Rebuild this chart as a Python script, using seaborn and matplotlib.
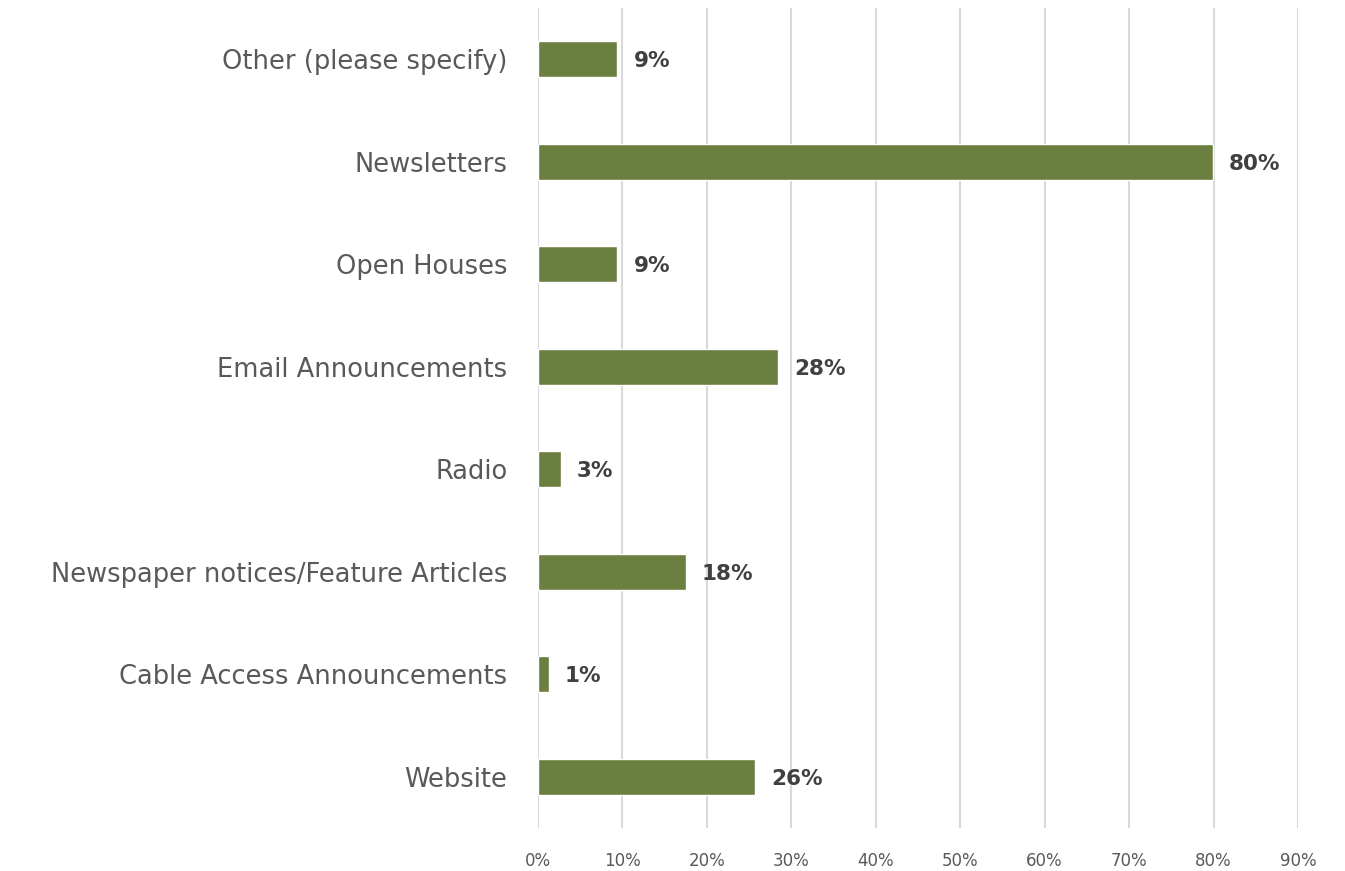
import pandas as pd
import matplotlib.pyplot as plt
import seaborn as sns
from matplotlib.ticker import PercentFormatter

# data (top to bottom)
categories = ["Other (please specify)", "Newsletters", "Open Houses", "Email Announcements",
              "Radio", "Newspaper notices/Feature Articles", "Cable Access Announcements", "Website"]
shares = [0.094, 0.799, 0.094, 0.284, 0.027, 0.175, 0.013, 0.257]
labels = ["9%", "80%", "9%", "28%", "3%", "18%", "1%", "26%"]

df = pd.DataFrame({"category": categories, "share": shares})

sns.set_style("white")
plt.rcParams['font.family'] = ['DejaVu Sans']

fig = plt.figure(figsize=(13.45, 8.71), dpi=100)
ax = fig.add_axes([538 / 1345, 1 - 828 / 871, (1298 - 538) / 1345, 820 / 871])

sns.barplot(data=df, x="share", y="category", orient="h", color="#6b7f40",
            width=0.35, saturation=1, ax=ax, zorder=3)

# value labels
for i, (v, lab) in enumerate(zip(shares, labels)):
    ax.text(v + 0.019, i + 0.02, lab, va="center", ha="left", fontsize=15.5,
            fontweight="bold", color="#404040")

ax.set_xlim(0, 0.9)
ax.set_xticks([i / 10 for i in range(10)])
ax.xaxis.set_major_formatter(PercentFormatter(1.0, decimals=0))
ax.grid(axis="x", color="#d9d9d9", linewidth=1.5, zorder=0)
ax.tick_params(axis="x", labelsize=12, labelcolor="#595959", length=0, pad=17)
ax.tick_params(axis="y", labelsize=18.5, labelcolor="#595959", length=0, pad=22)
ax.set_xlabel("")
ax.set_ylabel("")
sns.despine(ax=ax, left=True, bottom=True)

plt.savefig("out.png", dpi=100)
